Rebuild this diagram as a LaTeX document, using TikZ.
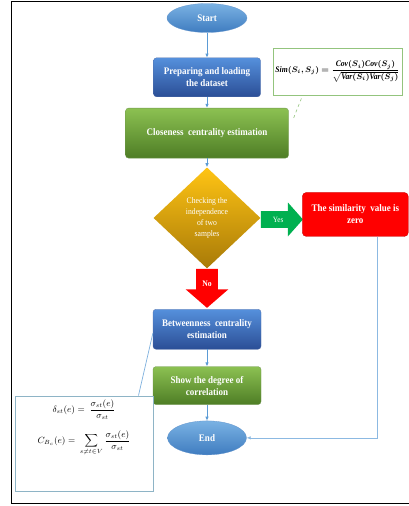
\documentclass[tikz,border=0pt]{standalone}
\usepackage{amsmath,amssymb,bm}
\usepackage{fontspec}
\setmainfont{Liberation Serif}[FakeStretch=0.9]
\usepackage{tikz}
\usetikzlibrary{arrows.meta,positioning,calc,shapes.geometric,shapes.arrows}
\definecolor{FlowLine}{HTML}{5B9BD5}
\definecolor{BlueTop}{HTML}{5590DC}
\definecolor{BlueBot}{HTML}{2B4E96}
\definecolor{GreenTop}{HTML}{8CC152}
\definecolor{GreenBot}{HTML}{4E7D25}
\definecolor{GoldTop}{HTML}{FFC414}
\definecolor{GoldBot}{HTML}{A87A08}
\definecolor{OvalTop}{HTML}{7AB2E3}
\definecolor{OvalBot}{HTML}{3F7CC0}
\definecolor{Zero}{HTML}{FF0000}
\definecolor{YesGreen}{HTML}{00B050}
\definecolor{SimFrame}{HTML}{93C47D}
\definecolor{BcFrame}{HTML}{8EB4C6}
\newcommand{\bitx}[1]{\text{\bfseries\itshape #1}}

\begin{document}
\begin{tikzpicture}[x=1pt,y=-1pt,>={Latex[length=4pt,width=3.5pt]},
  boxtext/.style={text=white,align=center,font=\bfseries\fontsize{10}{12}\selectfont},
  oval/.style={ellipse,boxtext,top color=OvalTop,bottom color=OvalBot,draw=OvalBot!80,line width=0.3pt,inner sep=0pt},
  bluebox/.style={rectangle,rounded corners=3pt,boxtext,top color=BlueTop,bottom color=BlueBot,draw=BlueBot!80,line width=0.3pt,inner sep=0pt},
  greenbox/.style={rectangle,rounded corners=3pt,boxtext,top color=GreenTop,bottom color=GreenBot,draw=GreenBot!80,line width=0.3pt,inner sep=0pt},
  flow/.style={->,draw=FlowLine,line width=0.9pt}]
  \useasboundingbox (0,0) rectangle (409,506);
  \draw[line width=0.8pt] (409,1) -| (11,503) -- (409,503);

  \node[oval,minimum width=80pt,minimum height=29pt] (start) at (207,18) {Start};
  \node[bluebox,minimum width=107pt,minimum height=39pt,below=25pt of start] (prep) {Preparing and loading\\the dataset};
  \node[greenbox,minimum width=163pt,minimum height=50pt,below=11pt of prep] (close) {Closeness\ \ centrality estimation};
  \node[diamond,inner sep=0pt,minimum width=107pt,minimum height=101pt,top color=GoldTop,bottom color=GoldBot,
        text=white,align=center,font=\fontsize{8.5}{11}\selectfont,below=9pt of close] (check)
        {Checking the\\independence\\of two\\samples};
  \node[single arrow,fill=YesGreen,text=white,font=\fontsize{8}{10}\selectfont,inner xsep=3pt,inner ysep=5.5pt,
        single arrow head extend=8.5pt,single arrow tip angle=97,minimum height=42pt,
        right=0pt of check,yshift=-1.5pt] (yes) {Yes};
  \node[rectangle,rounded corners=4pt,fill=Zero,draw=Zero!75!black,line width=0.3pt,boxtext,
        minimum width=106pt,minimum height=44pt,inner sep=0pt,right=-1pt of yes,yshift=5pt] (zero)
        {The similarity\ \ value is\\zero};
  \node[single arrow,shape border rotate=270,fill=Zero,text=white,font=\bfseries\fontsize{8.5}{10}\selectfont,
        inner xsep=6pt,inner ysep=3pt,single arrow head extend=10.5pt,single arrow tip angle=98,
        minimum height=39pt,below=0pt of check] (no) {No};
  \node[bluebox,minimum width=108pt,minimum height=40pt,below=1pt of no] (betw) {Betweenness\ \ centrality\\estimation};
  \node[greenbox,minimum width=108pt,minimum height=38pt,below=17pt of betw] (show) {Show the degree of\\correlation};
  \node[oval,minimum width=79pt,minimum height=34pt,below=16pt of show] (end) {End};

  \node[draw=SimFrame,line width=0.8pt,fill=white,inner sep=0pt,minimum width=129pt,minimum height=47pt] (sim) at (337.5,71.5)
    {\fontsize{8.5}{10}\selectfont$\bitx{Sim}\bm{(S_i,S_j)=\dfrac{\bitx{Cov}(S_i)\bitx{Cov}(S_j)}{\sqrt{\bitx{Var}(S_i)\bitx{Var}(S_j)}}}$};
  \node[draw=BcFrame,line width=1pt,fill=white,inner sep=0pt] (bc) at (84,443.5)
    {\parbox[c][95pt][t]{138pt}{\centering\fontsize{9}{11}\selectfont\vspace{4pt}
      $\displaystyle\delta_{st}(e)=\ \frac{\sigma_{st}(e)}{\sigma_{st}}$\\[10pt]
      $\displaystyle C_{B_c}(e)=\ \sum_{s\neq t\in V}\frac{\sigma_{st}(e)}{\sigma_{st}}$}};

  \draw[flow] (start) -- (prep);
  \draw[flow] (prep) -- (close);
  \draw[flow] (close) -- (check);
  \draw[flow] (betw) -- (show);
  \draw[flow] (show) -- (end);
  \draw[->,draw=FlowLine!70,line width=0.7pt] ([xshift=22pt]zero.south) |- (end.east);
  \draw[dashed,draw=SimFrame,line width=0.6pt] ([xshift=5pt,yshift=-10pt]close.north east) -- ([xshift=30pt]sim.south west);
  \draw[draw=FlowLine!80,line width=0.7pt] ([xshift=-15pt]bc.north east) -- ([yshift=-4pt]betw.west);
\end{tikzpicture}
\end{document}
